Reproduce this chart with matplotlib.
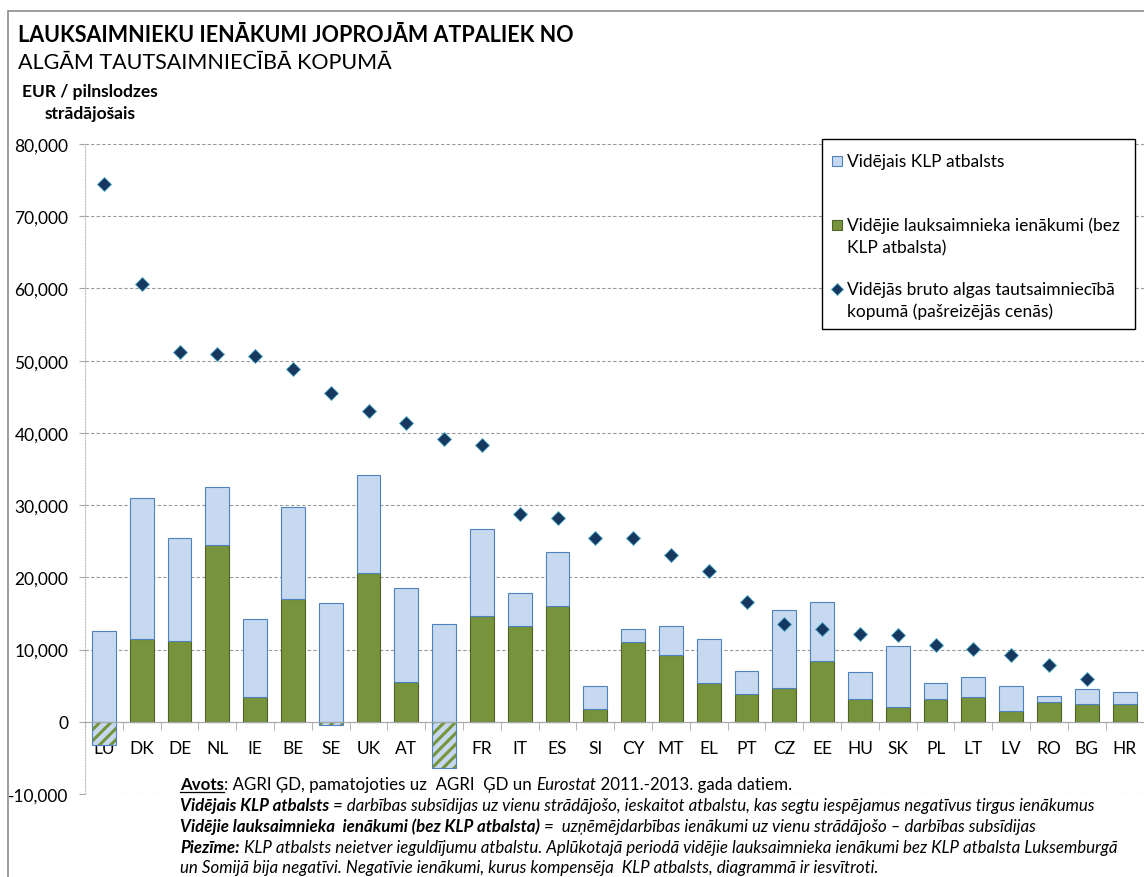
import numpy as np
import matplotlib.pyplot as plt
from matplotlib.patches import Rectangle
from matplotlib.lines import Line2D
from matplotlib.ticker import FuncFormatter

valstis = ["LU", "DK", "DE", "NL", "IE", "BE", "SE", "UK", "AT", "FI", "FR", "IT", "ES", "SI",
           "CY", "MT", "EL", "PT", "CZ", "EE", "HU", "SK", "PL", "LT", "LV", "RO", "BG", "HR"]
# vidējie lauksaimnieka ienākumi bez KLP atbalsta
ienakumi = [-3200, 11500, 11200, 24500, 3500, 17000, -500, 20600, 5500, -6400, 14600, 13300,
            16100, 1800, 11000, 9300, 5400, 3800, 4700, 8400, 3200, 2000, 3100, 3500, 1500,
            2700, 2400, 2500]
# vidējais KLP atbalsts
atbalsts = [15800, 19500, 14200, 8000, 10700, 12800, 16900, 13600, 13000, 20000, 12100, 4600,
            7400, 3200, 1900, 4000, 6100, 3300, 10800, 8200, 3700, 8500, 2300, 2700, 3500,
            900, 2200, 1600]
# vidējās bruto algas
algas = [74500, 60600, 51200, 50900, 50600, 48800, 45500, 43000, 41400, 39200, 38300, 28800,
         28200, 25500, 25400, 23100, 20900, 16600, 13600, 12900, 12200, 12000, 10700, 10100,
         9300, 7900, 5900, np.nan]

zils = "#C6D9F1"
zils_mala = "#4F81BD"
zals = "#77933C"
zals_mala = "#4F6228"
romb = "#17375E"
romb_mala = "#4BACC6"

W, H = 1144, 878
fig = plt.figure(figsize=(W / 100, H / 100), dpi=100)
plt.rcParams['font.family'] = ['Lato', 'DejaVu Sans']

def fx(px):
    return px / W

def fy(py):
    return 1 - py / H

ax = fig.add_axes([fx(85), fy(795), fx(1143.5) - fx(85), fy(145) - fy(795)])

x = np.arange(len(valstis))
ien = np.array(ienakumi, dtype=float)
atb = np.array(atbalsts, dtype=float)
poz = np.clip(ien, 0, None)
neg = np.clip(ien, None, 0)
augsa = ien + atb
bw = 0.63

ax.bar(x, poz, width=bw, color=zals, edgecolor=zals_mala, linewidth=0.8, zorder=3)
ax.bar(x, augsa - poz, bottom=poz, width=bw, color=zils, edgecolor=zils_mala, linewidth=0.8,
       zorder=3)
# negatīvie ienākumi - iesvītroti
plt.rcParams['hatch.linewidth'] = 2.2
ax.bar(x, neg, width=bw, color=zils, edgecolor=zals, hatch="///", linewidth=0, zorder=3)
ax.bar(x, neg, width=bw, color="none", edgecolor=zils_mala, linewidth=0.8, zorder=4)

ax.plot(x, algas, linestyle="none", marker="D", markersize=7.5, markerfacecolor=romb,
        markeredgecolor=romb_mala, markeredgewidth=0.6, zorder=5)

ax.set_xlim(-0.5, len(valstis) - 0.5)
ax.set_ylim(-10000, 80000)
ax.set_yticks(np.arange(-10000, 80001, 10000))
ax.yaxis.set_major_formatter(FuncFormatter(lambda v, p: f"{int(v):,}"))
ax.grid(axis="y", color="#9A9A9A", linestyle=(0, (3, 2)), linewidth=0.8, zorder=0)

ax.spines["bottom"].set_position(("data", 0))
ax.spines["bottom"].set_color("#A6A6A6")
ax.spines["bottom"].set_zorder(6)
ax.spines["top"].set_visible(False)
ax.spines["right"].set_visible(False)
ax.spines["left"].set_color("#BFBFBF")
ax.spines["left"].set_linestyle((0, (1, 1.5)))

ax.set_xticks(x)
ax.set_xticklabels(valstis, fontsize=12.5)
ax.set_xticks(np.arange(-0.5, len(valstis), 1), minor=True)
ax.tick_params(axis="x", which="major", length=0, pad=13)
ax.tick_params(axis="x", which="minor", length=6, color="#A6A6A6", direction="out")
ax.tick_params(axis="y", length=4, color="#A6A6A6", labelsize=12.5, pad=8)

# virsraksts
fig.text(fx(18), fy(35), "LAUKSAIMNIEKU IENĀKUMI JOPROJĀM ATPALIEK NO", fontsize=15.5,
         fontweight="bold", va="center")
fig.text(fx(18), fy(63), "ALGĀM TAUTSAIMNIECĪBĀ KOPUMĀ", fontsize=15.5, va="center")
fig.text(fx(22), fy(92), "EUR / pilnslodzes", fontsize=12.5, fontweight="bold", va="center")
fig.text(fx(45), fy(114), "strādājošais", fontsize=12.5, fontweight="bold", va="center")

# ārējais rāmis
fig.patches.append(Rectangle((fx(8), -0.01), 1.1, fy(12) + 0.01, transform=fig.transFigure,
                             fill=False, edgecolor="#8C8C8C", linewidth=1.2))

# leģenda
fig.patches.append(Rectangle((fx(822), fy(330)), fx(1135) - fx(822), fy(140) - fy(330),
                             transform=fig.transFigure, facecolor="white", edgecolor="black",
                             linewidth=1, zorder=10))
fig.patches.append(Rectangle((fx(832), fy(167)), fx(10), 10 / H, transform=fig.transFigure,
                             facecolor=zils, edgecolor=zils_mala, linewidth=0.8, zorder=11))
fig.patches.append(Rectangle((fx(832), fy(231)), fx(10), 10 / H, transform=fig.transFigure,
                             facecolor=zals, edgecolor=zals_mala, linewidth=0.8, zorder=11))
fig.lines.append(Line2D([fx(837)], [fy(290)], transform=fig.transFigure, marker="D",
                        markersize=6.5, markerfacecolor=romb, markeredgecolor=romb_mala,
                        markeredgewidth=0.6, linestyle="none", zorder=11))
for txt, py in [("Vidējais KLP atbalsts", 162),
                ("Vidējie lauksaimnieka ienākumi (bez", 226),
                ("KLP atbalsta)", 248),
                ("Vidējās bruto algas tautsaimniecībā", 290),
                ("kopumā (pašreizējās cenās)", 312)]:
    fig.text(fx(847), fy(py), txt, fontsize=12.5, va="center", zorder=12)

# piezīmes
rend = fig.canvas.get_renderer()
piez_fam = ["Lato", "DejaVu Sans"]

piezimes = [
    (785, [("Avots", "bold", "normal", True),
           (": AGRI ĢD, pamatojoties uz  AGRI  ĢD un ", "normal", "normal", False),
           ("Eurostat", "normal", "italic", False),
           (" 2011.-2013. gada datiem.", "normal", "normal", False)]),
    (806, [("Vidējais KLP atbalsts", "bold", "italic", False),
           (" = darbības subsīdijas uz vienu strādājošo, ieskaitot atbalstu, kas segtu "
            "iespējamus negatīvus tirgus ienākumus", "normal", "italic", False)]),
    (827, [("Vidējie lauksaimnieka  ienākumi (bez KLP atbalsta)", "bold", "italic", False),
           (" =  uzņēmējdarbības ienākumi uz vienu strādājošo – darbības subsīdijas",
            "normal", "italic", False)]),
    (848, [("Piezīme:", "bold", "italic", False),
           (" KLP atbalsts neietver ieguldījumu atbalstu. Aplūkotajā periodā vidējie "
            "lauksaimnieka ienākumi bez KLP atbalsta Luksemburgā", "normal", "italic", False)]),
    (868, [("un Somijā bija negatīvi. Negatīvie ienākumi, kurus kompensēja  KLP atbalsts, "
            "diagrammā ir iesvītroti.", "normal", "italic", False)]),
]

def rinda(px, py, dalas, izm, zimet=True):
    xx = fx(px)
    for teksts, sv, st, pasv in dalas:
        t = fig.text(xx, fy(py), teksts, fontsize=izm, fontweight=sv, fontstyle=st,
                     family=piez_fam, va="center")
        bb = t.get_window_extent(rend)
        if not zimet:
            t.remove()
        elif pasv:
            fig.lines.append(Line2D([bb.x0 / W, bb.x1 / W], [bb.y0 / H + 0.0005] * 2,
                                    transform=fig.transFigure, color="black", linewidth=0.9))
        xx += bb.width / W
    return xx * W - px

# fonta izmērs, lai 4. rinda aizņemtu tikpat vietas kā oriģinālā
bazes = 10.0
plat = rinda(180, 848, piezimes[3][1], bazes, zimet=False)
izm = bazes * 935 / plat
for py, dalas in piezimes:
    rinda(180, py, dalas, izm)

fig.savefig("out.png", dpi=100)
